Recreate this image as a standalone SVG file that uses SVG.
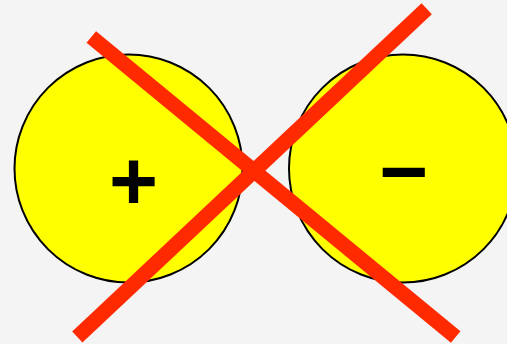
<svg xmlns="http://www.w3.org/2000/svg" width="507" height="344" viewBox="0 0 507 344">
<style>
.ball{fill:#ffff00;stroke:#000;stroke-width:2}
.sign{font-family:"Liberation Sans",Arial,sans-serif;font-weight:bold;font-size:84px;fill:#000;text-anchor:middle}
.cross{stroke:#ff2a00;stroke-width:15;stroke-linecap:butt}
</style>
<rect width="507" height="344" fill="#f4f4f4"/>
<g id="positive">
<circle class="ball" cx="128.5" cy="168.5" r="114"/>
<text class="sign" x="133.5" y="210">+</text>
</g>
<g id="negative">
<circle class="ball" cx="403" cy="168.5" r="114"/>
<text class="sign" x="403.5" y="200">−</text>
</g>
<g id="connectors">
<line class="cross" x1="91.3" y1="37" x2="455.7" y2="337"/>
<line class="cross" x1="426.7" y1="8.7" x2="77.3" y2="337"/>
</g>
</svg>
